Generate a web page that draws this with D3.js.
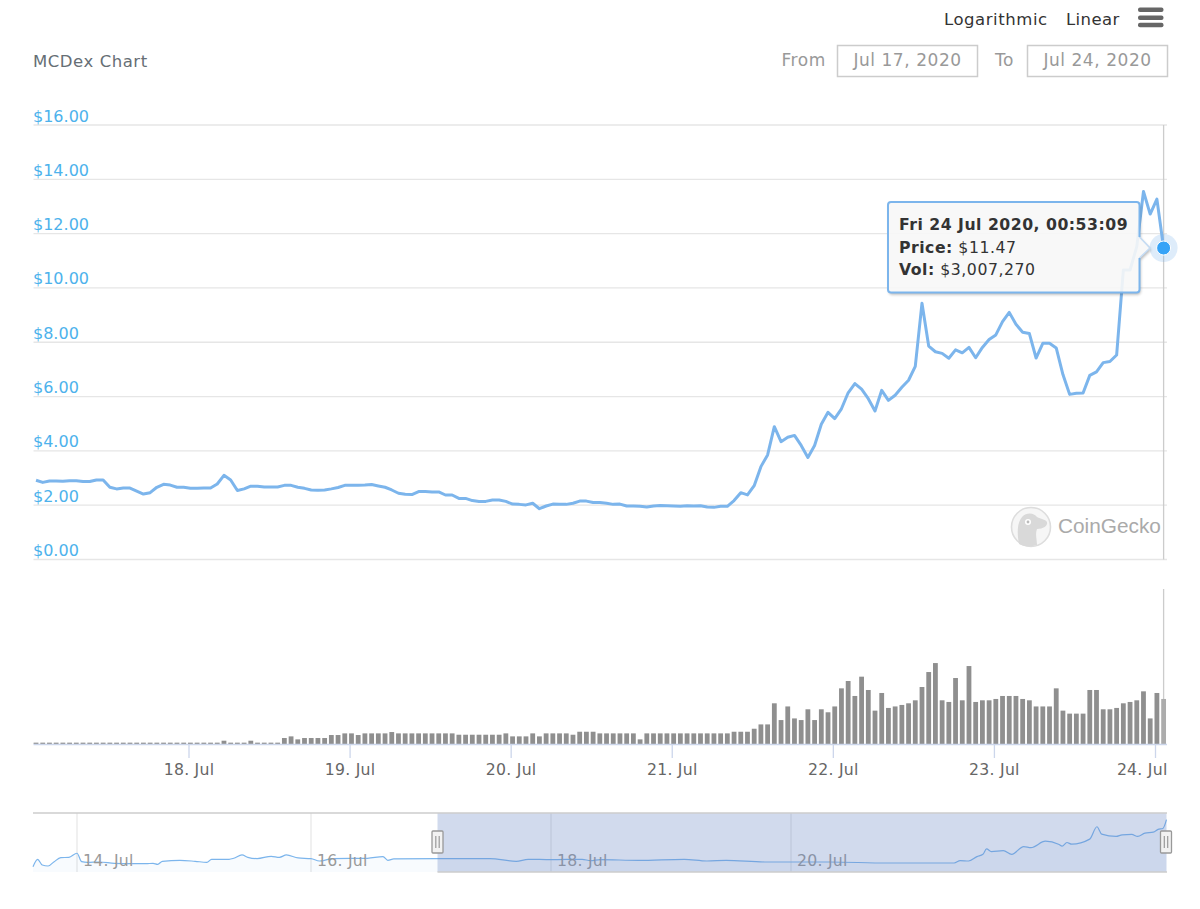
<!DOCTYPE html>
<html>
<head>
<meta charset="utf-8">
<script src="https://cdn.jsdelivr.net/npm/d3@7/dist/d3.min.js"></script>
<style>
html,body{margin:0;padding:0;background:#fff}
svg{display:block}
text{font-family:"DejaVu Sans",sans-serif}
</style>
</head>
<body>
<svg id="chart" width="1200" height="909"></svg>
<script>
const firstPointTime = Date.UTC(2020, 6, 17, 1, 17);
const priceValues = [
2.92,2.84,2.89,2.89,2.88,2.90,2.90,2.87,2.87,2.93,2.93,2.66,2.60,2.63,2.63,2.52,2.41,2.46,2.66,2.77,
2.74,2.66,2.66,2.62,2.62,2.63,2.63,2.78,3.10,2.93,2.54,2.60,2.70,2.70,2.67,2.67,2.67,2.73,2.73,2.66,
2.62,2.56,2.55,2.56,2.60,2.65,2.73,2.73,2.73,2.74,2.76,2.71,2.66,2.56,2.44,2.40,2.39,2.50,2.50,2.49,
2.49,2.375,2.375,2.25,2.25,2.17,2.14,2.14,2.19,2.19,2.14,2.04,2.03,2.01,2.07,1.87,1.97,2.04,2.03,2.03,
2.07,2.15,2.15,2.10,2.10,2.07,2.03,2.04,1.97,1.97,1.96,1.93,1.97,1.99,1.98,1.97,1.96,1.98,1.97,1.98,
1.93,1.92,1.96,1.96,2.17,2.46,2.38,2.72,3.42,3.85,4.89,4.34,4.50,4.57,4.20,3.76,4.20,4.98,5.42,5.19,
5.55,6.14,6.48,6.27,5.92,5.47,6.23,5.86,6.05,6.34,6.60,7.11,9.44,7.86,7.65,7.59,7.41,7.72,7.61,7.81,
7.43,7.81,8.10,8.27,8.76,9.10,8.66,8.37,8.32,7.42,7.96,7.96,7.79,6.81,6.08,6.12,6.13,6.78,6.91,7.25,
7.29,7.53,10.66,10.66,11.52,13.55,12.72,13.27,11.47];
// volume in millions of dollars
const volumeValues = [
.09,.09,.09,.09,.09,.09,.09,.09,.09,.09,.09,.09,.09,.09,.09,.09,.09,.09,.09,.09,
.09,.09,.09,.09,.09,.09,.09,.09,.22,.09,.09,.09,.22,.09,.09,.09,.09,.40,.51,.31,
.40,.40,.40,.40,.60,.60,.71,.71,.60,.71,.71,.71,.71,.80,.71,.71,.71,.71,.71,.71,
.71,.71,.71,.62,.62,.62,.62,.62,.62,.62,.71,.51,.51,.51,.71,.51,.71,.71,.71,.71,
.62,.82,.82,.82,.71,.71,.71,.71,.71,.71,.31,.71,.71,.71,.71,.71,.71,.71,.71,.71,
.71,.71,.71,.71,.82,.82,.82,1.02,1.31,1.31,2.72,1.60,2.51,1.71,1.60,2.32,1.60,2.32,
2.12,2.51,3.72,4.21,3.21,4.50,3.61,2.23,3.41,2.41,2.51,2.61,2.72,2.92,3.81,4.81,
5.41,2.92,2.81,4.41,2.92,5.21,2.81,2.92,2.92,3.01,3.21,3.21,3.21,3.01,2.92,2.51,
2.51,2.51,3.72,2.23,2.03,2.03,2.03,3.61,3.61,2.32,2.32,2.41,2.72,2.81,2.92,3.52,
1.71,3.41,3.01];
// the overview strip: day of July 2020, then price
const navDays = [
13.62,13.66,13.70,13.75,13.80,13.86,13.93,14.00,14.04,14.09,14.19,14.32,14.45,14.59,14.65,14.69,14.73,14.88,15.01,15.11,
15.15,15.30,15.34,15.41,15.46,15.54,15.66,15.73,15.79,15.89,16.00,16.07,16.18,16.47,16.60,16.64,16.69,17.05,17.49,17.71,
17.81,18.00,18.26,18.33,18.41,18.73,19.11,19.30,19.46,19.78,20.00,20.32,20.80,21.36,21.41,21.48,21.55,21.60,21.63,21.67,
21.77,21.84,21.94,22.00,22.12,22.23,22.26,22.30,22.34,22.49,22.55,22.59,22.71,22.76,22.84,22.89,22.95,23.02,23.06,23.10,23.13];
const navPrices = [
1.17,2.69,1.52,1.31,2.14,3.03,3.10,3.93,2.21,2.07,2.14,1.86,1.79,1.79,1.86,1.66,2.28,2.48,2.28,2.07,
2.69,2.69,2.90,3.59,3.10,2.83,3.31,3.10,3.59,2.97,2.83,2.34,2.83,2.90,3.24,2.48,2.76,2.83,2.83,2.28,
2.69,2.62,2.69,2.41,2.62,2.48,2.69,2.34,2.48,2.14,2.14,2.14,1.93,1.93,2.41,2.34,3.24,3.72,4.83,4.28,
4.48,3.72,5.31,5.10,6.41,5.79,5.38,6.14,5.79,6.83,9.38,7.86,7.38,7.72,7.79,7.38,8.07,8.28,8.83,9.03,10.83];
const priceTicks = [0,2,4,6,8,10,12,14,16];
const dayTicks = [18,19,20,21,22,23,24];
const navTicks = [14,16,18,20];
const tooltipLines = [["Fri 24 Jul 2020, 00:53:09",""],["Price:"," $11.47"],["Vol:"," $3,007,270"]];

const julyDay = d => Date.UTC(2020, 6, 1) + (d - 1) * 864e5;
const L = 33.5, R = 1167;
const svg = d3.select("#chart");
const x = d3.scaleTime().domain([julyDay(18), julyDay(24)]).range([188.5, 1155]);
const y = d3.scaleLinear().domain([0, 16]).range([559.5, 125]);
const yVol = d3.scaleLinear().domain([0, 10.36]).range([744, 589]);
const navX = d3.scaleLinear().domain([13.62, 14, 16, 20, 23.13]).range([33, 77, 311, 791, 1166.5]);
const navY = d3.scaleLinear().domain([0, 12.2]).range([872.4, 813]);
const pointX = i => x(firstPointTime + i * 36e5);

const defs = svg.append("defs");
const f = defs.append("filter").attr("id", "shadow").attr("x", "-5%").attr("y", "-10%").attr("width", "112%").attr("height", "125%");
f.append("feGaussianBlur").attr("in", "SourceAlpha").attr("stdDeviation", 1.5).attr("result", "b");
f.append("feOffset").attr("in", "b").attr("dx", 1).attr("dy", 1.5).attr("result", "o");
f.append("feComponentTransfer").attr("in", "o").attr("result", "s").append("feFuncA").attr("type", "linear").attr("slope", .3);
f.append("feComposite").attr("in", "s").attr("in2", "SourceAlpha").attr("operator", "out");

// header
svg.append("text").attr("x", 33).attr("y", 67).attr("font-size", 16.5).attr("letter-spacing", .55).attr("fill", "#666e75").text("MCDex Chart");
svg.append("text").attr("x", 944).attr("y", 25).attr("font-size", 16.5).attr("letter-spacing", .55).attr("fill", "#333").text("Logarithmic");
svg.append("text").attr("x", 1066).attr("y", 25).attr("font-size", 16.5).attr("letter-spacing", .4).attr("fill", "#333").text("Linear");
[7.5, 15.5, 22.8].forEach(t => svg.append("rect").attr("x", 1138).attr("y", t).attr("width", 25.5).attr("height", 4.4).attr("rx", 2).attr("fill", "#666"));
svg.append("text").attr("x", 781.5).attr("y", 66).attr("font-size", 17).attr("letter-spacing", .55).attr("fill", "#999").text("From");
svg.append("text").attr("x", 995).attr("y", 66).attr("font-size", 17).attr("letter-spacing", .55).attr("fill", "#999").text("To");
[[837, "Jul 17, 2020"], [1027, "Jul 24, 2020"]].forEach(([bx, label]) => {
  svg.append("rect").attr("x", bx + .5).attr("y", 45.5).attr("width", 140).attr("height", 31).attr("fill", "#fff").attr("stroke", "#ccc").attr("stroke-width", 1.5);
  svg.append("text").attr("x", bx + 70.5).attr("y", 66).attr("text-anchor", "middle").attr("font-size", 17).attr("letter-spacing", .55).attr("fill", "#999").text(label);
});

// price gridlines and labels
const grid = svg.append("g");
grid.selectAll("line").data(priceTicks).join("line")
  .attr("x1", L).attr("x2", R).attr("y1", d => y(d)).attr("y2", d => y(d))
  .attr("stroke", "#e6e6e6").attr("stroke-width", 1.3);
grid.selectAll("text").data(priceTicks).join("text")
  .attr("x", 33).attr("y", d => y(d) - 3.5).attr("font-size", 16).attr("fill", "#4db2ec")
  .text(d => "$" + d.toFixed(2));

// watermark
const wm = svg.append("g").attr("transform", "translate(1031,527)");
wm.append("circle").attr("r", 19.5).attr("fill", "#f6f6f6").attr("stroke", "#ddd").attr("stroke-width", 1.6);
wm.append("path").attr("fill", "#d9d9d9").attr("d", "M-12,17C-14,6 -14,-4 -9,-10C-4,-15 3,-14 6,-10C10,-8 14,-8 16,-5C17,-1 12,2 6,2C4,7 6,13 6,18C0,20 -7,20 -12,17Z");
wm.append("circle").attr("cx", -3).attr("cy", -5).attr("r", 3).attr("fill", "#fff");
wm.append("circle").attr("cx", -3).attr("cy", -5).attr("r", 1.4).attr("fill", "#bbb");
svg.append("text").attr("x", 1058).attr("y", 533).style("font-family", "Liberation Sans").attr("font-size", 20.8).attr("fill", "#aaa").text("CoinGecko");

// crosshair
const hoverX = pointX(priceValues.length - 1);
[[125, 559.5], [589, 744]].forEach(([a, b]) => svg.append("line").attr("x1", hoverX).attr("x2", hoverX).attr("y1", a).attr("y2", b).attr("stroke", "#ccc").attr("stroke-width", 1.3));

// volume bars
const lastIndex = volumeValues.length - 1;
svg.append("g").selectAll("rect").data(volumeValues).join("rect")
  .attr("x", (d, i) => pointX(i) - 2.4).attr("width", 4.8)
  .attr("y", d => yVol(d)).attr("height", d => yVol(0) - yVol(d))
  .attr("fill", (d, i) => i === lastIndex ? "#acacac" : "#8f8f8f");

// time axis
const axis = svg.append("g").attr("transform", "translate(0,744)")
  .call(d3.axisBottom(x).tickValues(dayTicks.map(julyDay)).tickSize(14).tickPadding(6).tickFormat(d => new Date(d).getUTCDate() + ". Jul"));
axis.select(".domain").attr("d", `M${L},0.5H${R}`).attr("stroke", "#ccd6eb").attr("stroke-width", 1.3);
axis.selectAll(".tick line").attr("stroke", "#ccd6eb").attr("stroke-width", 1.3);
axis.selectAll(".tick text").style("font-family", "DejaVu Sans").attr("font-size", 15.7).attr("letter-spacing", .25).attr("fill", "#666");
axis.selectAll(".tick").filter(d => +d === julyDay(24)).select("text").attr("text-anchor", "end").attr("x", R - 1155);

// price line
svg.append("path").datum(priceValues)
  .attr("d", d3.line().x((d, i) => pointX(i)).y(d => y(d)))
  .attr("fill", "none").attr("stroke", "#7cb5ec").attr("stroke-width", 3).attr("stroke-linejoin", "round");

// hover marker
const lastPrice = priceValues[priceValues.length - 1];
svg.append("circle").attr("cx", hoverX).attr("cy", y(lastPrice)).attr("r", 14).attr("fill", "#7cb5ec").attr("opacity", .25);
svg.append("circle").attr("cx", hoverX).attr("cy", y(lastPrice)).attr("r", 7).attr("fill", "#36a3f7").attr("stroke", "#fff").attr("stroke-width", 1);

// tooltip
const tipBox = "M891,202H1136.5Q1139.5,202 1139.5,205V237L1150,248L1139.5,258V289.5Q1139.5,292.5 1136.5,292.5H891Q888,292.5 888,289.5V205Q888,202 891,202Z";
svg.append("path").attr("d", tipBox).attr("filter", "url(#shadow)").attr("fill", "#000");
svg.append("path").attr("d", tipBox).attr("fill", "#f7f7f7").attr("fill-opacity", .9);
svg.append("path").attr("d", "M1139.5,237L1150,248L1139.5,258").attr("fill", "none").attr("stroke", "#c4dbf3").attr("stroke-width", 1.6);
svg.append("path").attr("d", "M1139.5,237V205Q1139.5,202 1136.5,202H891Q888,202 888,205V289.5Q888,292.5 891,292.5H1136.5Q1139.5,292.5 1139.5,289.5V258")
  .attr("fill", "none").attr("stroke", "#7cb5ec").attr("stroke-width", 2);
tooltipLines.forEach(([head, rest], k) => {
  const t = svg.append("text").attr("x", 899).attr("y", 230 + k * 22.5).attr("font-size", 15.7).attr("fill", "#333");
  t.append("tspan").attr("font-weight", "bold").attr("letter-spacing", .5).text(head);
  if (rest) t.append("tspan").attr("letter-spacing", .55).text(rest);
});

// navigator
const nav = svg.append("g");
nav.selectAll("line.g").data(navTicks).join("line").attr("class", "g")
  .attr("x1", d => navX(d)).attr("x2", d => navX(d)).attr("y1", 813).attr("y2", 872)
  .attr("stroke", "#e6e6e6").attr("stroke-width", 1.2);
nav.append("path").datum(navPrices)
  .attr("d", d3.area().x((d, i) => navX(navDays[i])).y0(872).y1(d => navY(d)).curve(d3.curveMonotoneX))
  .attr("fill", "#7cb5ec").attr("fill-opacity", .05);
nav.append("path").datum(navPrices)
  .attr("d", d3.line().x((d, i) => navX(navDays[i])).y(d => navY(d)).curve(d3.curveMonotoneX))
  .attr("fill", "none").attr("stroke", "#7cb5ec").attr("stroke-width", 1.2);
nav.selectAll("text").data(navTicks).join("text")
  .attr("x", d => navX(d) + 6).attr("y", 866).attr("font-size", 15.7).attr("letter-spacing", .25).attr("fill", "#999")
  .text(d => d + ". Jul");
nav.append("rect").attr("x", 437.5).attr("y", 813).attr("width", 1166.5 - 437.5).attr("height", 59).attr("fill", "rgba(102,133,194,0.3)");
nav.append("line").attr("x1", 33).attr("x2", 1167).attr("y1", 813).attr("y2", 813).attr("stroke", "#ccc").attr("stroke-width", 1.6);
nav.append("line").attr("x1", 437.5).attr("x2", 1167).attr("y1", 872).attr("y2", 872).attr("stroke", "#ccc").attr("stroke-width", 1.3);
[437.5, 1166].forEach(hx => {
  nav.append("rect").attr("x", hx - 5.5).attr("y", 831).attr("width", 11).attr("height", 22).attr("rx", 1).attr("fill", "#f2f2f2").attr("stroke", "#999").attr("stroke-width", 1.3);
  [-1.7, 1.7].forEach(o => nav.append("line").attr("x1", hx + o).attr("x2", hx + o).attr("y1", 836).attr("y2", 848).attr("stroke", "#999").attr("stroke-width", 1.2));
});
</script>
</body>
</html>
